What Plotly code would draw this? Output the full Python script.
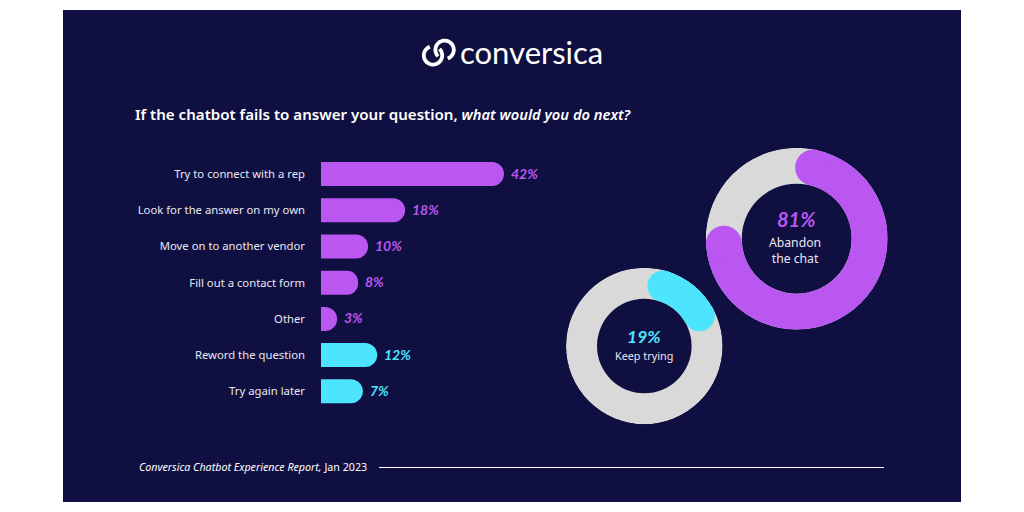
import math

import plotly.graph_objects as go

W, H = 1024, 512

# bars, top to bottom
answers = ['Try to connect with a rep', 'Look for the answer on my own', 'Move on to another vendor',
           'Fill out a contact form', 'Other', 'Reword the question', 'Try again later']
answer_labels = ['42%', '18%', '10%', '8%', '3%', '12%', '7%']
# lengths as drawn in the picture, they are not quite proportional to the labels
bar_lengths = [42, 19.3, 10.8, 8.5, 3.7, 12.9, 9.6]
bar_groups = ['abandon', 'abandon', 'abandon', 'abandon', 'abandon', 'keep', 'keep']

# donuts
donut_names = ['Abandon<br>the chat', 'Keep trying']
donut_labels = ['81%', '19%']
# part of the ring between the two cap centres, percent of the circle
donut_arcs = [70.3, 12.2]

NAVY = '#100F41'
PURPLE = '#B957F0'
CYAN = '#4DE5FD'
GREY = '#D9D9D9'
TEXT = 'Noto Sans'
HAND = 'Lato'
SOFT_WHITE = '#E8E8F0'


def px(x):
    return x / W


def py(y):
    return 1 - y / H


fig = go.Figure()

group_colors = {'abandon': PURPLE, 'keep': CYAN}
fig.add_trace(go.Bar(
    y=answers, x=bar_lengths, orientation='h',
    marker=dict(color=[group_colors[g] for g in bar_groups], line_width=0),
    cliponaxis=False, hoverinfo='skip', showlegend=False,
))

# value labels sit just past each bar end
for answer, length, label, group in zip(answers, bar_lengths, answer_labels, bar_groups):
    fig.add_annotation(x=length, y=answer, xref='x', yref='y', text='<b><i>' + label + '</i></b>',
                       showarrow=False, xanchor='left', xshift=5, yshift=1,
                       font=dict(family=HAND, size=14, color=group_colors[group]))


def add_donut(name, center, outer, inner, start, arc, color):
    # polar range runs in pixels, so the ring lands at the measured radii
    sweep = arc * 3.6
    fig.add_trace(go.Barpolar(r=[outer - inner], base=[inner], theta=[180], width=[360], subplot=name,
                              marker=dict(color=GREY, line_width=0), hoverinfo='skip', showlegend=False))
    fig.add_trace(go.Barpolar(r=[outer - inner], base=[inner], theta=[start + sweep / 2], width=[sweep],
                              subplot=name, marker=dict(color=color, line_width=0),
                              hoverinfo='skip', showlegend=False))
    fig.add_trace(go.Scatterpolar(r=[(outer + inner) / 2] * 2, theta=[start, start + sweep], mode='markers',
                                  subplot=name, marker=dict(color=color, size=outer - inner, line_width=0),
                                  hoverinfo='skip', showlegend=False))
    fig.update_layout({name: dict(
        domain=dict(x=[px(center[0] - outer), px(center[0] + outer)],
                    y=[py(center[1] + outer), py(center[1] - outer)]),
        bgcolor='rgba(0,0,0,0)',
        radialaxis=dict(visible=False, range=[0, outer]),
        angularaxis=dict(visible=False, rotation=90, direction='clockwise'),
    )})


add_donut('polar', (796.7, 238.7), 91, 55, 13, donut_arcs[0], PURPLE)
add_donut('polar2', (644.3, 346), 78.3, 47.3, 17.3, donut_arcs[1], CYAN)

shapes = [
    dict(type='rect', xref='paper', yref='paper', x0=px(63), x1=px(961), y0=py(502), y1=py(10),
         fillcolor=NAVY, line_width=0, layer='below'),
    dict(type='line', xref='paper', yref='paper', x0=px(379), x1=px(884), y0=py(467.5), y1=py(467.5),
         line=dict(color='white', width=1.2)),
]


def logo_arc(cx, cy, r, a0, a1):
    # open ring for the logo, angles in degrees, page pixels
    pts = []
    for i in range(41):
        a = math.radians(a0 + (a1 - a0) * i / 40)
        pts.append('%.5f,%.5f' % (px(cx + r * math.cos(a)), py(cy - r * math.sin(a))))
    return 'M' + ' L'.join(pts)


for ring in [(444.6, 49.8, 9.2, 225, -70), (433, 55.4, 9.2, 45, -250)]:
    shapes.append(dict(type='path', xref='paper', yref='paper', path=logo_arc(*ring),
                       line=dict(color='white', width=3.8)))


def page_text(x, y, text, size, color='white', family=TEXT, anchor='center', weight=None):
    fig.add_annotation(x=px(x), y=py(y), xref='paper', yref='paper', text=text, showarrow=False,
                       xanchor=anchor, yanchor='middle', align=anchor,
                       font=dict(family=family, size=size, color=color, weight=weight))


page_text(531.5, 52, 'conversica', 31, family='Lato')
page_text(133, 114, 'If the chatbot fails to answer your question, '
                    '<span style="font-size:14.7px"><i>what would you do next?</i></span>',
          15.1, anchor='left', weight=600)
page_text(137, 467, '<i>Conversica Chatbot Experience Report,</i> Jan 2023', 10.7, anchor='left')
page_text(796, 219, '<b><i>' + donut_labels[0] + '</i></b>', 20, PURPLE, HAND)
page_text(795, 250, donut_names[0], 12.2, SOFT_WHITE)
page_text(644, 336, '<b><i>' + donut_labels[1] + '</i></b>', 17.5, CYAN, HAND)
page_text(644, 355, donut_names[1], 10.8, SOFT_WHITE)

fig.update_layout(
    width=W, height=H, margin=dict(l=0, r=0, t=0, b=0),
    paper_bgcolor='white', plot_bgcolor='rgba(0,0,0,0)',
    barcornerradius=12, bargap=0.337, shapes=shapes,
    xaxis=dict(domain=[px(321), px(321 + 50 * 4.357)], range=[0, 50], visible=False),
    yaxis=dict(domain=[py(409.4), py(156)], autorange='reversed', showgrid=False, showline=False,
               ticks='', ticklabelstandoff=15, automargin=False,
               tickfont=dict(family=TEXT, size=11.3, color=SOFT_WHITE)),
)

fig.write_html('out.html', config={'displayModeBar': False}, post_script="document.body.style.margin='0';")
